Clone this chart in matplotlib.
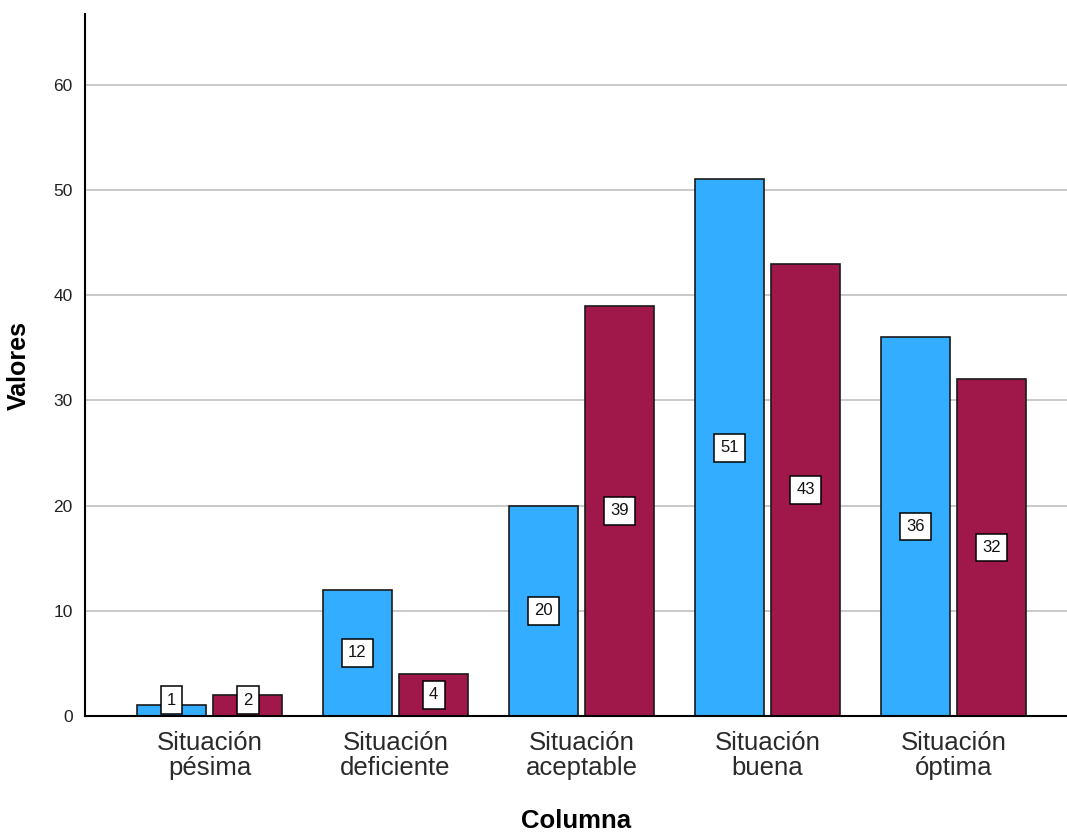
import matplotlib.pyplot as plt
import numpy as np

categories = ['Situación\npésima', 'Situación\ndeficiente', 'Situación\naceptable',
              'Situación\nbuena', 'Situación\nóptima']
serie_azul = [1, 12, 20, 51, 36]
serie_roja = [2, 4, 39, 43, 32]
yticks = [0, 10, 20, 30, 40, 50, 60]

plt.rcParams['font.family'] = ['Liberation Sans', 'DejaVu Sans']

fig = plt.figure(figsize=(10.67, 8.35), dpi=100)
ax = fig.add_axes([0.0797, 0.1425, 0.9203, 0.8405])

x = np.arange(len(categories))
width = 0.37
offset = 0.205

ax.set_axisbelow(True)
ax.yaxis.grid(True, color='#c0c0c0', linewidth=1.2)

bars1 = ax.bar(x - offset, serie_azul, width, color='#33adff', edgecolor='#1a1a1a', linewidth=1.2)
bars2 = ax.bar(x + offset, serie_roja, width, color='#a0184a', edgecolor='#1a1a1a', linewidth=1.2)

# value labels in the middle of each bar (kept above the baseline)
for bars, vals in [(bars1, serie_azul), (bars2, serie_roja)]:
    for b, v in zip(bars, vals):
        ax.text(b.get_x() + b.get_width() / 2, max(v / 2, 1.5),
                str(v), ha='center', va='center', fontsize=12, color='#111111',
                bbox=dict(boxstyle='square,pad=0.38', facecolor='white',
                          edgecolor='black', linewidth=1.1))

ax.set_xlim(-0.67, 4.61)
ax.set_ylim(0, 66.7)
ax.set_yticks(yticks)
ax.set_xticks(x)
ax.set_xticklabels(categories, fontsize=18.5, color='#2a2a2a', linespacing=1.05)
ax.tick_params(axis='y', length=0, labelsize=12.5, pad=9, labelcolor='#222222')
ax.tick_params(axis='x', length=0, pad=11)

for s in ['top', 'right']:
    ax.spines[s].set_visible(False)
ax.spines['left'].set_linewidth(1.5)
ax.spines['bottom'].set_linewidth(1.5)

ax.set_ylabel('Valores', fontsize=18, fontweight='bold', labelpad=16)
ax.set_xlabel('Columna', fontsize=18.5, fontweight='bold', labelpad=21)

fig.savefig('out.png', dpi=100)
